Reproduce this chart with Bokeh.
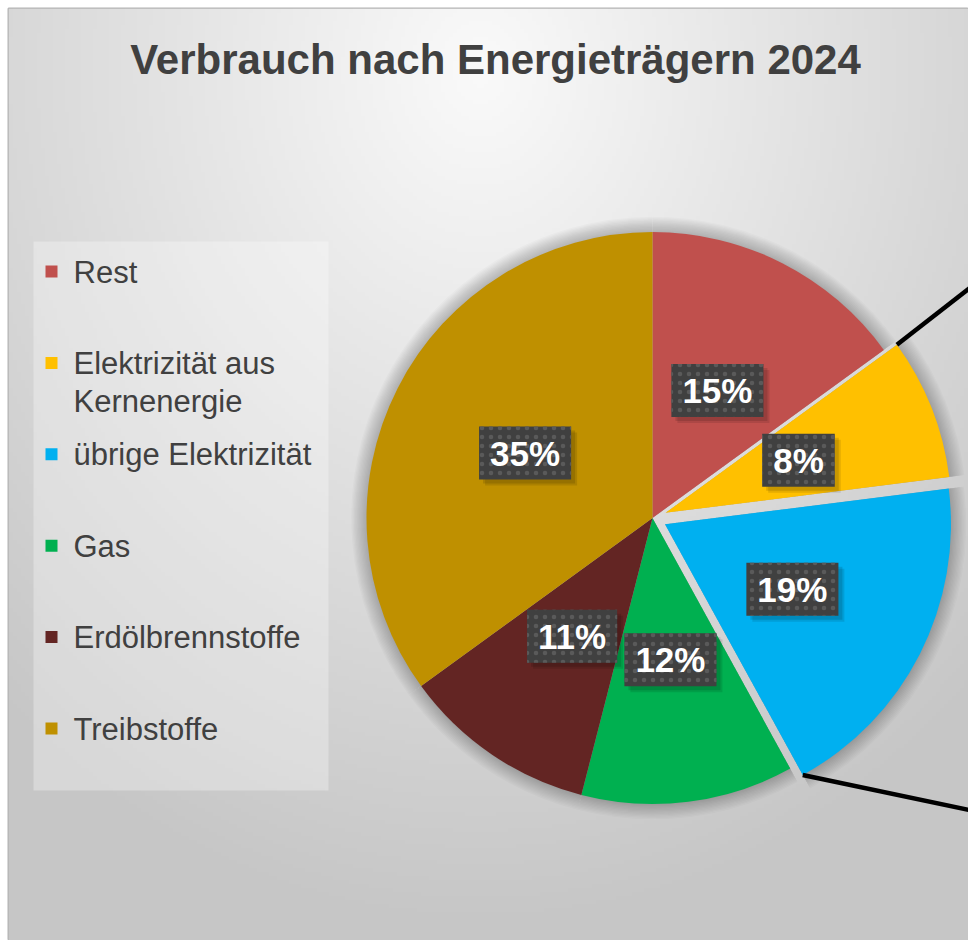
import numpy as np
from bokeh.plotting import figure
from bokeh.models import Range1d, ColumnDataSource
from bokeh.core.properties import value
from bokeh.embed import file_html
from bokeh.resources import INLINE

# ---------------- data ----------------
categories = ["Rest", "Elektrizität aus Kernenergie", "übrige Elektrizität",
              "Gas", "Erdölbrennstoffe", "Treibstoffe"]
shares = [15, 8, 19, 12, 11, 35]
colors = ["#C0504D", "#FFC000", "#00B0F0", "#00B050", "#632523", "#BF9000"]
legend_labels = ["Rest", "Elektrizität aus\nKernenergie", "übrige Elektrizität",
                 "Gas", "Erdölbrennstoffe", "Treibstoffe"]
exploded = ["Elektrizität aus Kernenergie", "übrige Elektrizität"]
title = "Verbrauch nach Energieträgern 2024"

# ---------------- layout ----------------
FW, FH = 968, 940          # whole figure
W = 960                    # plot frame width (after 8px white border left)
Y0, Y1 = -8, 924           # frame y extent in drawing units
FONT = "Liberation Sans"
TXT = "#404040"

p = figure(width=FW, height=FH, x_range=Range1d(0, W), y_range=Range1d(Y0, Y1),
           output_backend="svg", toolbar_location=None,
           min_border_left=8, min_border_top=8, min_border_right=0,
           min_border_bottom=0, x_axis_type=None, y_axis_type=None)
p.grid.visible = False
p.outline_line_color = "#b4b4b4"
p.outline_line_width = 2
p.background_fill_color = "#d9d9d9"
p.border_fill_color = "white"

# radial background gradient
ds = 4
nx, ny = W // ds, (Y1 - Y0) // ds
gx = (np.arange(nx) + 0.5) * ds
gy = Y0 + (np.arange(ny) + 0.5) * ds
X, Y = np.meshgrid(gx, gy)
t = np.sqrt(((X - 472) / 720.0) ** 2 + ((Y - 862) / 860.0) ** 2)
t = np.clip(t, 0, 1)
g = (250 - 52 * t).astype(np.uint8)
img = np.empty((ny, nx), dtype=np.uint32)
view = img.view(dtype=np.uint8).reshape((ny, nx, 4))
view[..., 0] = g
view[..., 1] = g
view[..., 2] = g
view[..., 3] = 255
p.image_rgba(image=[img], x=0, y=Y0, dw=W, dh=Y1 - Y0)

# ---------------- pie geometry ----------------
cx, cy, R = 644.0, 414.5, 286.0
explode_d = 14.0
total = float(sum(shares))
cum = np.concatenate([[0], np.cumsum(shares)]) / total * 360.0
th1, th2 = cum[:-1], cum[1:]
phi1 = np.deg2rad(90 - th1)
phi2 = np.deg2rad(90 - th2)
phim = np.deg2rad(90 - (th1 + th2) / 2)
off = np.array([explode_d if c in exploded else 0.0 for c in categories])
wx = cx + off * np.cos(phim)
wy = cy + off * np.sin(phim)

src = ColumnDataSource(dict(x=wx, y=wy, s=phi1, e=phi2, color=colors,
                            cat=categories,
                            lx=wx + 0.5 * R * np.cos(phim),
                            ly=wy + 0.5 * R * np.sin(phim),
                            lab=[f"{v}%" for v in shares]))

# soft shadow of the pie
for k in range(12):
    p.wedge(x="x", y="y", radius=R + 1 + k * 1.3, start_angle="s", end_angle="e",
            direction="clock", source=src, fill_color="black", fill_alpha=0.018,
            line_color=None)

p.wedge(x="x", y="y", radius=R, start_angle="s", end_angle="e",
        direction="clock", source=src, fill_color="color", line_color=None)

# connector lines (pie-of-pie)
i1 = categories.index(exploded[0])
i2 = categories.index(exploded[-1])
s1 = (wx[i1] + R * np.cos(phi1[i1]), wy[i1] + R * np.sin(phi1[i1]))
s2 = (wx[i2] + R * np.cos(phi2[i2]), wy[i2] + R * np.sin(phi2[i2]))
d1 = np.array([66.3, 51.6]); d1 /= np.linalg.norm(d1)
d2 = np.array([166.3, -35.0]); d2 /= np.linalg.norm(d2)
L = 400
p.segment(x0=[s1[0], s2[0]], y0=[s1[1], s2[1]],
          x1=[s1[0] + L * d1[0], s2[0] + L * d2[0]],
          y1=[s1[1] + L * d1[1], s2[1] + L * d2[1]],
          line_color="black", line_width=4.5)

# data labels: shadow then box
pad = dict(left=11, right=11, top=7, bottom=7)
for a, ox in ((0.10, 6), (0.12, 4)):
    p.text(x="lx", y="ly", text="lab", source=src, text_alpha=0,
           text_font=value(FONT), text_font_style="bold", text_font_size="35px",
           text_align="center", text_baseline="middle",
           x_offset=ox, y_offset=ox,
           background_fill_color="black", background_fill_alpha=a, padding=pad)
p.text(x="lx", y="ly", text="lab", source=src, text_color="white",
       text_font=value(FONT), text_font_style="bold", text_font_size="35px",
       text_align="center", text_baseline="middle",
       background_fill_color="#404040",
       background_hatch_pattern="dot", background_hatch_color="#5a5a5a",
       background_hatch_scale=9, background_hatch_weight=1.5,
       padding=pad)

# ---------------- legend ----------------
p.quad(left=25, right=320, bottom=142, top=691, fill_color="white",
       fill_alpha=0.3, line_color=None)
leg_y = 661 - 91.4 * np.arange(len(categories))
lsrc = ColumnDataSource(dict(x=[43] * len(categories), y=leg_y, color=colors,
                             tx=[65] * len(categories), ty=leg_y + 17,
                             lab=legend_labels))
p.rect(x="x", y="y", width=12, height=12, source=lsrc, fill_color="color",
       line_color=None)
p.text(x="tx", y="ty", text="lab", source=lsrc, text_color=TXT,
       text_font=value(FONT), text_font_size="31px", text_align="left",
       text_baseline="top", text_line_height=1.1)

# ---------------- title ----------------
p.text(x=[487], y=[873], text=[title], text_color=TXT, text_font=value(FONT),
       text_font_style="bold", text_font_size="42px", text_align="center",
       text_baseline="middle")

open("out.html", "w").write(file_html(p, INLINE))
